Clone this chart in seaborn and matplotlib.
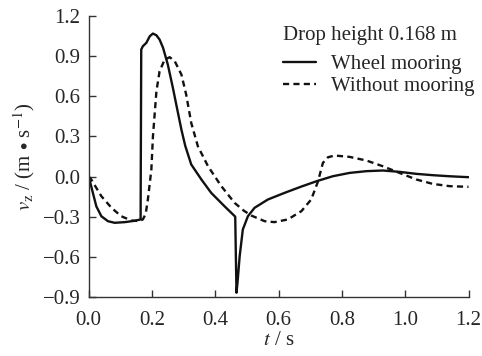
import numpy as np
import pandas as pd
import matplotlib
matplotlib.use("Agg")
import matplotlib.pyplot as plt
import seaborn as sns

# Wheel mooring (solid)
t_wheel = [0.0, 0.0136, 0.024, 0.040, 0.061, 0.082, 0.114, 0.145, 0.164, 0.166, 0.171, 0.182,
           0.193, 0.203, 0.214, 0.224, 0.235, 0.25, 0.266, 0.28, 0.293, 0.305, 0.324, 0.356,
           0.387, 0.429, 0.463, 0.465, 0.467, 0.471, 0.477, 0.487, 0.503, 0.524, 0.566, 0.619,
           0.672, 0.72, 0.771, 0.824, 0.877, 0.929, 0.982, 1.035, 1.087, 1.14, 1.2]
v_wheel = [0.0, -0.125, -0.222, -0.297, -0.334, -0.346, -0.341, -0.331, -0.321, 0.949, 0.974,
           0.999, 1.049, 1.069, 1.056, 1.024, 0.962, 0.837, 0.663, 0.50, 0.35, 0.23, 0.09, -0.022,
           -0.122, -0.222, -0.300, -0.60, -0.869, -0.77, -0.596, -0.396, -0.297, -0.234, -0.172,
           -0.122, -0.075, -0.035, 0.002, 0.027, 0.04, 0.045, 0.035, 0.02, 0.01, 0.002, -0.005]

# Without mooring (dashed)
t_free = [0.0, 0.008, 0.04, 0.072, 0.103, 0.135, 0.160, 0.171, 0.18, 0.187, 0.198, 0.203, 0.214,
          0.224, 0.24, 0.256, 0.272, 0.293, 0.308, 0.324, 0.345, 0.377, 0.419, 0.461, 0.49, 0.514,
          0.556, 0.587, 0.629, 0.672, 0.703, 0.724, 0.74, 0.756, 0.777, 0.824, 0.877, 0.929, 0.982,
          1.035, 1.087, 1.14, 1.2]
v_free = [0.0, -0.022, -0.147, -0.234, -0.297, -0.329, -0.333, -0.321, -0.28, -0.172, 0.052,
          0.3, 0.638, 0.787, 0.874, 0.892, 0.862, 0.762, 0.613, 0.401, 0.226, 0.077, -0.072,
          -0.197, -0.255, -0.292, -0.334, -0.341, -0.321, -0.259, -0.172, -0.04, 0.102, 0.144,
          0.157, 0.147, 0.12, 0.077, 0.027, -0.022, -0.055, -0.072, -0.077]

labels = ["Wheel mooring", "Without mooring"]
x_ticks = [0.0, 0.2, 0.4, 0.6, 0.8, 1.0, 1.2]
y_ticks = [-0.9, -0.6, -0.3, 0.0, 0.3, 0.6, 0.9, 1.2]

df = pd.concat([
    pd.DataFrame({"t": t_wheel, "v": v_wheel, "case": labels[0]}),
    pd.DataFrame({"t": t_free, "v": v_free, "case": labels[1]}),
])

sns.set_style("ticks")
plt.rcParams["font.family"] = ["Liberation Serif", "DejaVu Serif"]
plt.rcParams["mathtext.fontset"] = "stix"
fs = 15

fig = plt.figure(figsize=(4.82, 3.56), dpi=100)
ax = fig.add_axes([0.184, 0.166, 0.788, 0.789])

sns.lineplot(data=df, x="t", y="v", style="case", ax=ax, color="#111111",
             linewidth=1.7, sort=False, estimator=None,
             dashes={labels[0]: "", labels[1]: (2.6, 1.8)})

ax.set_xlim(0, 1.2)
ax.set_ylim(-0.9, 1.2)
ax.set_xticks(x_ticks)
ax.set_yticks(y_ticks)
ax.set_xticklabels([f"{x:.1f}" for x in x_ticks])
ax.set_yticklabels([f"{y:.1f}".replace("-", "\u2212") for y in y_ticks])
ax.tick_params(labelsize=fs, direction="in", length=5, width=1, color="#333333", pad=6)
ax.tick_params(axis="x", pad=10)
for s in ["top", "right"]:
    ax.spines[s].set_visible(False)
for s in ["left", "bottom"]:
    ax.spines[s].set_linewidth(1.0)
    ax.spines[s].set_color("#333333")

ax.set_xlabel(r"$t$ / s", fontsize=fs, labelpad=1)
ax.set_ylabel(r"$v_\mathrm{z}$ / (m $\bullet$ s$^{-1}$)", fontsize=fs, labelpad=4)

leg = ax.legend(title="Drop height 0.168 m", loc="upper right", bbox_to_anchor=(1.015, 0.965),
                frameon=False, fontsize=fs, title_fontsize=fs, handlelength=1.6,
                handletextpad=0.7, labelspacing=0.1, borderaxespad=0, borderpad=0)
leg._legend_box.align = "left"
leg._legend_box.sep = 7

fig.savefig("out.png", dpi=100)
